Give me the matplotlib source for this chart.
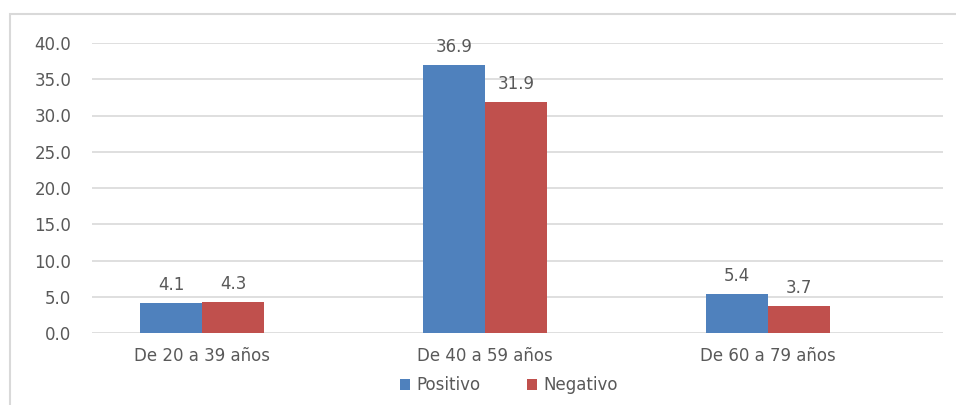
import numpy as np
import matplotlib
matplotlib.use('Agg')
import matplotlib.pyplot as plt
from matplotlib.patches import Rectangle

# age groups and percentages per test result
grupos = ['De 20 a 39 años', 'De 40 a 59 años', 'De 60 a 79 años']
positivo = [4.1, 36.9, 5.4]
negativo = [4.3, 31.9, 3.7]
y_ticks = [0, 5, 10, 15, 20, 25, 30, 35, 40]

azul = '#4F81BD'
rojo = '#C0504D'
gris_texto = '#595959'
gris_linea = '#D9D9D9'

plt.rcParams['font.family'] = ['DejaVu Sans']
fs = 12

fig = plt.figure(figsize=(9.56, 4.05), dpi=100)
ax = fig.add_axes([92 / 956, 1 - 333 / 405, (943 - 92) / 956, (333 - 43) / 405])

# chart frame (open at the right and bottom edges)
fig.patches.append(Rectangle((10 / 956, -0.1), 1.2, 1 - 14 / 405 + 0.1,
                             transform=fig.transFigure, fill=False,
                             edgecolor=gris_linea, linewidth=1.5))

x = np.arange(len(grupos))
ancho = 0.219
b1 = ax.bar(x - ancho / 2, positivo, ancho, color=azul, label='Positivo', zorder=3)
b2 = ax.bar(x + ancho / 2, negativo, ancho, color=rojo, label='Negativo', zorder=3)

for barras in (b1, b2):
    for rect in barras:
        h = rect.get_height()
        ax.annotate('%.1f' % h, (rect.get_x() + rect.get_width() / 2, h),
                    xytext=(0, 6.5), textcoords='offset points',
                    ha='center', va='bottom', fontsize=fs, color=gris_texto)

ax.set_xlim(-0.389, 2.618)
ax.set_ylim(0, 40)
ax.set_yticks(y_ticks)
ax.set_yticklabels(['%.1f' % v for v in y_ticks])
ax.set_xticks(x)
ax.set_xticklabels(grupos)
ax.yaxis.grid(True, color=gris_linea, linewidth=1.2, zorder=0)
ax.set_axisbelow(True)
for s in ax.spines.values():
    s.set_visible(False)
ax.tick_params(axis='both', length=0, labelsize=fs, labelcolor=gris_texto)
ax.tick_params(axis='y', pad=15)
ax.tick_params(axis='x', pad=10)

ax.legend(loc='center', bbox_to_anchor=(0.49, -0.18), ncol=2, frameon=False,
          fontsize=fs, labelcolor=gris_texto, handlelength=0.6, handleheight=0.6,
          handletextpad=0.4, columnspacing=2.8)

fig.savefig('out.png', dpi=100)
